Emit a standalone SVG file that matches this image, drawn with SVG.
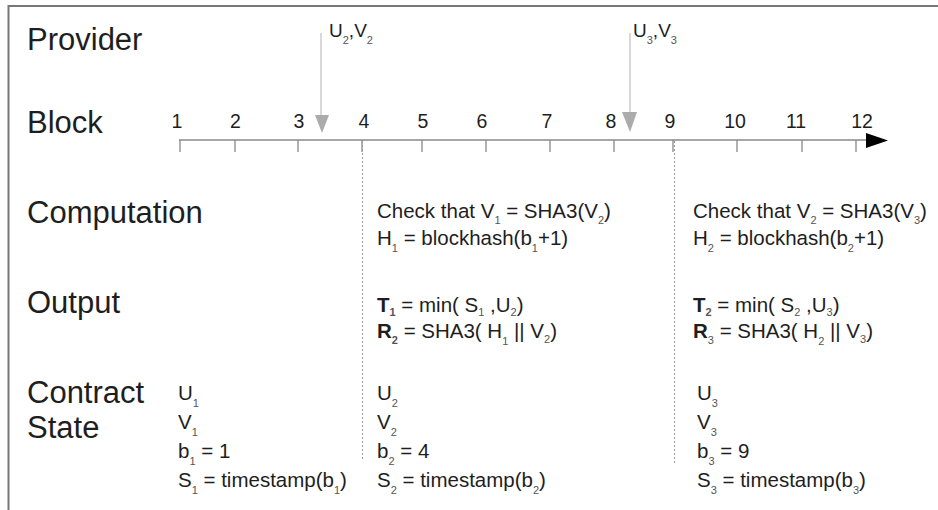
<svg xmlns="http://www.w3.org/2000/svg" width="938" height="510" viewBox="0 0 938 510">
<style>
text{font-family:"Liberation Sans",Arial,sans-serif;fill:#1e1e1e}
.big{font-size:31px}
.num{font-size:19.5px;text-anchor:middle}
.lbl{font-size:19px}
.t{font-size:20.5px}
.s{font-size:11px;fill:#555}
.b{font-weight:bold}
.tick{stroke:#888;stroke-width:1.3}
.dot{stroke:#9a9a9a;stroke-width:1;stroke-dasharray:2,2;fill:none}
.gline{stroke:#c4c4c4;stroke-width:1.3}
.ghead{fill:#ababab}
</style>
<rect width="938" height="510" fill="#fff"/>
<path d="M8.5,510 V6 H938" fill="none" stroke="#777" stroke-width="2"/>

<g id="row-labels">
<text class="big" x="27" y="50">Provider</text>
<text class="big" x="27" y="133">Block</text>
<text class="big" x="27" y="223">Computation</text>
<text class="big" x="27" y="313">Output</text>
<text class="big" x="27" y="403">Contract</text>
<text class="big" x="27" y="438">State</text>
</g>

<g id="block-numbers">
<text class="num" x="177" y="128">1</text>
<text class="num" x="235.5" y="128">2</text>
<text class="num" x="299" y="128">3</text>
<text class="num" x="364" y="128">4</text>
<text class="num" x="423" y="128">5</text>
<text class="num" x="482" y="128">6</text>
<text class="num" x="547" y="128">7</text>
<text class="num" x="611" y="128">8</text>
<text class="num" x="670" y="128">9</text>
<text class="num" x="735" y="128">10</text>
<text class="num" x="796" y="128">11</text>
<text class="num" x="862" y="128">12</text>
</g>

<g id="connectors">
<line x1="179" y1="140" x2="868" y2="140" stroke="#888" stroke-width="1.5"/>
<polygon points="866,133 888,140.5 866,148" fill="#000"/>
<line class="tick" x1="180" y1="140" x2="180" y2="152"/>
<line class="tick" x1="235" y1="140" x2="235" y2="152"/>
<line class="tick" x1="298" y1="140" x2="298" y2="152"/>
<line class="tick" x1="362" y1="140" x2="362" y2="152"/>
<line class="tick" x1="422" y1="140" x2="422" y2="152"/>
<line class="tick" x1="486" y1="140" x2="486" y2="152"/>
<line class="tick" x1="550" y1="140" x2="550" y2="152"/>
<line class="tick" x1="614" y1="140" x2="614" y2="152"/>
<line class="tick" x1="673" y1="140" x2="673" y2="152"/>
<line class="tick" x1="737" y1="140" x2="737" y2="152"/>
<line class="tick" x1="802" y1="140" x2="802" y2="152"/>
<line class="tick" x1="856" y1="140" x2="856" y2="152"/>
<line class="dot" x1="362.5" y1="141" x2="362.5" y2="460"/>
<line class="dot" x1="674.5" y1="141" x2="674.5" y2="463"/>
<line class="gline" x1="321" y1="33" x2="321" y2="116"/>
<polygon class="ghead" points="315,115 329,115 322,133"/>
<line class="gline" x1="630" y1="33" x2="630" y2="113"/>
<polygon class="ghead" points="622,112 637,112 630,132"/>
</g>

<g id="provider-u2v2">
<text class="lbl" x="329" y="37">U<tspan class="s" dy="7">2</tspan><tspan dy="-7">,V</tspan><tspan class="s" dy="7">2</tspan></text>
</g>
<g id="provider-u3v3">
<text class="lbl" x="633" y="37">U<tspan class="s" dy="7">3</tspan><tspan dy="-7">,V</tspan><tspan class="s" dy="7">3</tspan></text>
</g>

<g id="computation-1">
<text class="t" x="377" y="218">Check that V<tspan class="s" dy="6">1</tspan><tspan dy="-6"> = SHA3(V</tspan><tspan class="s" dy="6">2</tspan><tspan dy="-6">)</tspan></text>
<text class="t" x="377" y="245">H<tspan class="s" dy="7">1</tspan><tspan dy="-7"> = blockhash(b</tspan><tspan class="s" dy="7">1</tspan><tspan dy="-7">+1)</tspan></text>
</g>
<g id="computation-2">
<text class="t" x="693" y="218">Check that V<tspan class="s" dy="6">2</tspan><tspan dy="-6"> = SHA3(V</tspan><tspan class="s" dy="6">3</tspan><tspan dy="-6">)</tspan></text>
<text class="t" x="693" y="245">H<tspan class="s" dy="7">2</tspan><tspan dy="-7"> = blockhash(b</tspan><tspan class="s" dy="7">2</tspan><tspan dy="-7">+1)</tspan></text>
</g>

<g id="output-1">
<text class="t" x="377" y="312"><tspan class="b">T</tspan><tspan class="s b" dy="4">1</tspan><tspan dy="-4"> = min( S</tspan><tspan class="s" dy="4">1</tspan><tspan dy="-4"> ,U</tspan><tspan class="s" dy="4">2</tspan><tspan dy="-4">)</tspan></text>
<text class="t" x="377" y="338"><tspan class="b">R</tspan><tspan class="s b" dy="6">2</tspan><tspan dy="-6"> = SHA3( H</tspan><tspan class="s" dy="7">1</tspan><tspan dy="-7"> || V</tspan><tspan class="s" dy="5">2</tspan><tspan dy="-5">)</tspan></text>
</g>
<g id="output-2">
<text class="t" x="693" y="312"><tspan class="b">T</tspan><tspan class="s b" dy="4">2</tspan><tspan dy="-4"> = min( S</tspan><tspan class="s" dy="4">2</tspan><tspan dy="-4"> ,U</tspan><tspan class="s" dy="4">3</tspan><tspan dy="-4">)</tspan></text>
<text class="t" x="693" y="338"><tspan class="b">R</tspan><tspan class="s" dy="6">3</tspan><tspan dy="-6"> = SHA3( H</tspan><tspan class="s" dy="7">2</tspan><tspan dy="-7"> || V</tspan><tspan class="s" dy="5">3</tspan><tspan dy="-5">)</tspan></text>
</g>

<g id="state-1">
<text class="t" x="178" y="400">U<tspan class="s" dy="7">1</tspan></text>
<text class="t" x="178" y="429">V<tspan class="s" dy="7">1</tspan></text>
<text class="t" x="178" y="458">b<tspan class="s" dy="7">1</tspan><tspan dy="-7"> = 1</tspan></text>
<text class="t" x="178" y="487">S<tspan class="s" dy="7">1</tspan><tspan dy="-7"> = timestamp(b</tspan><tspan class="s" dy="7">1</tspan><tspan dy="-7">)</tspan></text>
</g>
<g id="state-2">
<text class="t" x="377" y="400">U<tspan class="s" dy="7">2</tspan></text>
<text class="t" x="377" y="429">V<tspan class="s" dy="7">2</tspan></text>
<text class="t" x="377" y="458">b<tspan class="s" dy="7">2</tspan><tspan dy="-7"> = 4</tspan></text>
<text class="t" x="377" y="487">S<tspan class="s" dy="7">2</tspan><tspan dy="-7"> = timestamp(b</tspan><tspan class="s" dy="7">2</tspan><tspan dy="-7">)</tspan></text>
</g>
<g id="state-3">
<text class="t" x="697" y="400">U<tspan class="s" dy="7">3</tspan></text>
<text class="t" x="697" y="429">V<tspan class="s" dy="7">3</tspan></text>
<text class="t" x="697" y="458">b<tspan class="s" dy="7">3</tspan><tspan dy="-7"> = 9</tspan></text>
<text class="t" x="697" y="487">S<tspan class="s" dy="7">3</tspan><tspan dy="-7"> = timestamp(b</tspan><tspan class="s" dy="7">3</tspan><tspan dy="-7">)</tspan></text>
</g>
</svg>
